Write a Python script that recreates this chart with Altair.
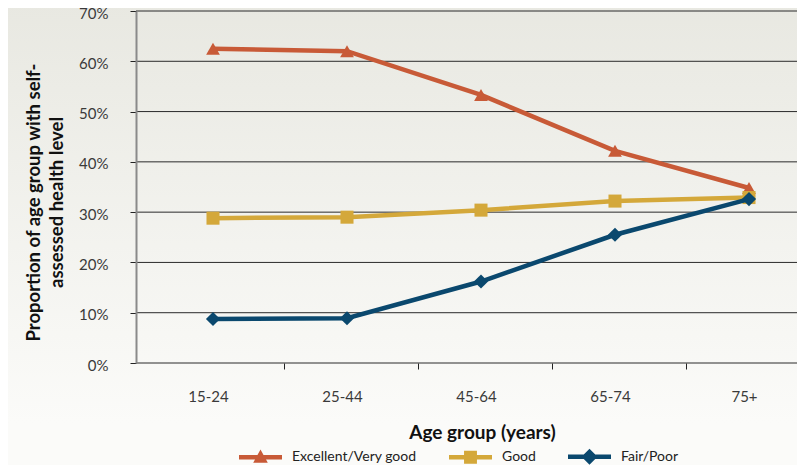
import altair as alt
import pandas as pd

ages = ["15-24", "25-44", "45-64", "65-74", "75+"]
series = ["Excellent/Very good", "Good", "Fair/Poor"]
excellent = [62.5, 62.0, 53.3, 42.2, 34.8]
good = [28.8, 29.0, 30.4, 32.2, 32.9]
fair = [8.75, 8.9, 16.2, 25.5, 32.6]
y_ticks = [0, 0.1, 0.2, 0.3, 0.4, 0.5, 0.6, 0.7]
colors = ["#c85a37", "#d4a83a", "#0a486e"]
marker_shapes = ["triangle-up", "square", "diamond"]
marker_sizes = [190, 170, 200]
legend_paths = [
    "M-1,-0.1 L1,-0.1 L1,0.1 L-1,0.1 Z M0,-0.36 L0.34,0.26 L-0.34,0.26 Z",
    "M-1,-0.1 L1,-0.1 L1,0.1 L-1,0.1 Z M-0.3,-0.3 L0.3,-0.3 L0.3,0.3 L-0.3,0.3 Z",
    "M-1,-0.1 L1,-0.1 L1,0.1 L-1,0.1 Z M0,-0.37 L0.37,0 L0,0.37 L-0.37,0 Z",
]

rows = []
for name, vals in zip(series, [excellent, good, fair]):
    for a, v in zip(ages, vals):
        rows.append({"age": a, "series": name, "value": v / 100})
df = pd.DataFrame(rows)
grid_df = pd.DataFrame({"value": y_ticks})

W, H = 661, 352
FONT = "Lato"

x_enc = alt.X(
    "age:N",
    sort=ages,
    scale=alt.Scale(type="point", padding=0.4664, align=0.616),
    axis=alt.Axis(
        title="Age group (years)", zindex=1,
        titleFont=FONT, titleFontSize=19, titleFontWeight="bold", titleColor="#111",
        titleX=346, titleY=60, titleBaseline="top", titleAnchor="middle",
        labelFont=FONT, labelFontSize=15, labelColor="#3a3a3a", labelAngle=0,
        labelPadding=20, tickSize=6, tickColor="#222", tickWidth=1,
        tickOffset=71, labelOffset=-76, domain=False, grid=False,
    ),
)
y_scale = alt.Scale(domain=[0, 0.7], nice=False)
y_enc = alt.Y(
    "value:Q",
    scale=y_scale,
    axis=alt.Axis(
        title=["Proportion of age group with self-", "assessed health level"], zindex=1,
        titleFont=FONT, titleFontSize=18.5, titleFontWeight="bold", titleColor="#111",
        titleX=-93, titleY=191, titleBaseline="bottom", titleLineHeight=23,
        titleAngle=270, titleAlign="center",
        values=y_ticks, format=".0%",
        labelFont=FONT, labelFontSize=15, labelColor="#3a3a3a", labelPadding=22,
        labelOffset=2,
        tickSize=6, tickColor="#222", tickWidth=1,
        grid=False,
        domain=True, domainColor="#8a8a8a", domainWidth=2,
    ),
)

bg = alt.Chart(alt.Data(values=[{"k": 1}])).mark_rect(
    fill=alt.LinearGradient(
        gradient="linear",
        stops=[alt.GradientStop(offset=0, color="#e8e8e1"),
               alt.GradientStop(offset=1, color="#fbfbf9")],
        x1=0, x2=0, y1=0, y2=1,
    )
).encode(x=alt.value(-140), x2=alt.value(W + 20), y=alt.value(-11), y2=alt.value(412))

gridlines = alt.Chart(grid_df).mark_rule(color="#2a2a2a", strokeWidth=1).encode(
    y=alt.Y("value:Q", scale=y_scale),
    x=alt.value(0), x2=alt.value(W),
)

base = alt.Chart(df)

line_layers = []
marker_layers = []
for name, col, shp, sz in zip(series, colors, marker_shapes, marker_sizes):
    sub = base.transform_filter(alt.datum.series == name)
    line_layers.append(
        sub.mark_line(strokeWidth=4.5, color=col).encode(x=x_enc, y=y_enc)
    )
    marker_layers.append(
        sub.mark_point(shape=shp, filled=True, size=sz, opacity=1, color=col, strokeWidth=0)
        .encode(x=x_enc, y=y_enc)
    )

leg = alt.Legend(
    title=None, orient="none", legendX=103, legendY=424, direction="horizontal",
    columns=3, symbolSize=1849, symbolStrokeWidth=0, symbolOpacity=1,
    labelFont=FONT, labelFontSize=14, labelColor="#222", labelOffset=10,
    columnPadding=32, padding=0,
)
legend_layer = base.mark_point(filled=True, size=0, opacity=1).encode(
    x=x_enc, y=y_enc,
    color=alt.Color("series:N", scale=alt.Scale(domain=series, range=colors), legend=leg),
    shape=alt.Shape("series:N", scale=alt.Scale(domain=series, range=legend_paths), legend=leg),
)

layers = [bg, gridlines]
for ln, mk in zip(line_layers, marker_layers):
    layers += [ln, mk]
layers.append(legend_layer)

chart = alt.layer(*layers).properties(
    width=W, height=H,
    autosize=alt.AutoSizeParams(type="none"),
    padding={"left": 128, "top": 3, "right": 0, "bottom": 102},
    background="#fbfbf9",
).configure_view(stroke=None)

chart.save("out.html", embed_options={"renderer": "svg", "actions": False})
